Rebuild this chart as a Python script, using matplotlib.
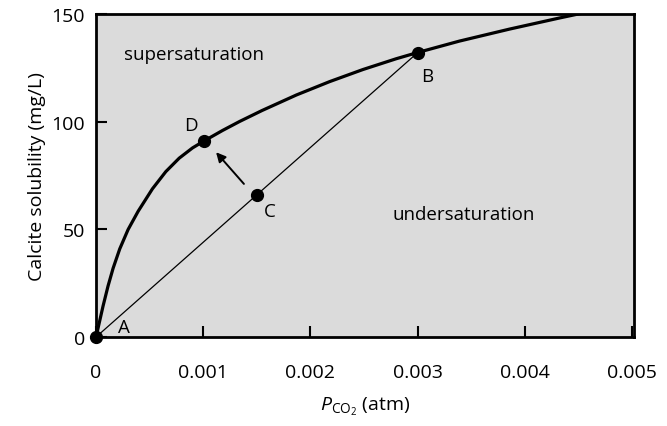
import matplotlib.pyplot as plt

plt.rcParams['font.family'] = ['Open Sans', 'DejaVu Sans']
plt.rcParams['mathtext.fontset'] = 'custom'
plt.rcParams['mathtext.rm'] = 'Open Sans'
plt.rcParams['mathtext.it'] = 'Open Sans:italic'

# solubility curve
curve_p = [0, 0.000065, 0.000112, 0.000159, 0.000221, 0.000299, 0.000393,
           0.000526, 0.000651, 0.000776, 0.0009, 0.00101, 0.00118, 0.00134,
           0.00155, 0.00187, 0.00218, 0.00249, 0.0028, 0.0030, 0.00339,
           0.00386, 0.00433, 0.00451, 0.0047]
curve_s = [0, 14.3, 23.7, 31.9, 40.9, 49.9, 58.4,
           68.8, 76.8, 83.05, 87.8, 91.1, 95.9, 100.1,
           105.2, 112.4, 118.6, 124.2, 129.2, 132.1, 137.4,
           143.0, 148.2, 150.1, 152.0]

# labelled states
pt_names = ["A", "B", "C", "D"]
pt_p = [0.0, 0.0030, 0.0015, 0.00101]
pt_s = [0.0, 132.0, 66.0, 91.0]

x_ticks = [0, 0.001, 0.002, 0.003, 0.004, 0.005]
x_ticklabels = ["0", "0.001", "0.002", "0.003", "0.004", "0.005"]
y_ticks = [0, 50, 100, 150]

fig = plt.figure(figsize=(6.67, 4.27), dpi=100)
ax = fig.add_axes([0.144, 0.2084, 0.8065, 0.7565])
ax.set_facecolor("#dbdbdb")

ax.plot(curve_p, curve_s, color="black", lw=2.3, zorder=3,
        solid_joinstyle="round", solid_capstyle="round")
ax.plot([pt_p[0], pt_p[1]], [pt_s[0], pt_s[1]], color="black", lw=0.9, zorder=3)
ax.plot(pt_p, pt_s, "o", color="black", ms=8.5, zorder=4, clip_on=False)

# arrow C -> D
ax.annotate("", xy=(0.00112, 85.8), xytext=(0.00138, 71.1),
            arrowprops=dict(arrowstyle="-|>", color="black", lw=1.4,
                            mutation_scale=14, shrinkA=0, shrinkB=0))

label_pos = {"A": (0.00026, 4.6), "B": (0.00309, 121), "C": (0.00162, 58.5), "D": (0.00089, 98.5)}
for name in pt_names:
    lx, ly = label_pos[name]
    ax.text(lx, ly, name, fontsize=13.5, ha="center", va="center", zorder=5)

ax.text(0.00091, 131.4, "supersaturation", fontsize=13.5, ha="center", va="center")
ax.text(0.00343, 57, "undersaturation", fontsize=13.5, ha="center", va="center")

ax.set_xlim(0, 0.00502)
ax.set_ylim(0, 150)
ax.set_xticks(x_ticks)
ax.set_xticklabels(x_ticklabels)
ax.set_yticks(y_ticks)
ax.tick_params(direction="in", length=8, width=1.5, labelsize=14)
ax.tick_params(axis="x", pad=19)
ax.tick_params(axis="y", pad=8)
for sp in ax.spines.values():
    sp.set_linewidth(2)

ax.set_xlabel(r"$P_{\mathrm{CO_2}}$ (atm)", fontsize=14, labelpad=10)
ax.set_ylabel("Calcite solubility (mg/L)", fontsize=14, labelpad=4)

fig.savefig("out.png", dpi=100)
